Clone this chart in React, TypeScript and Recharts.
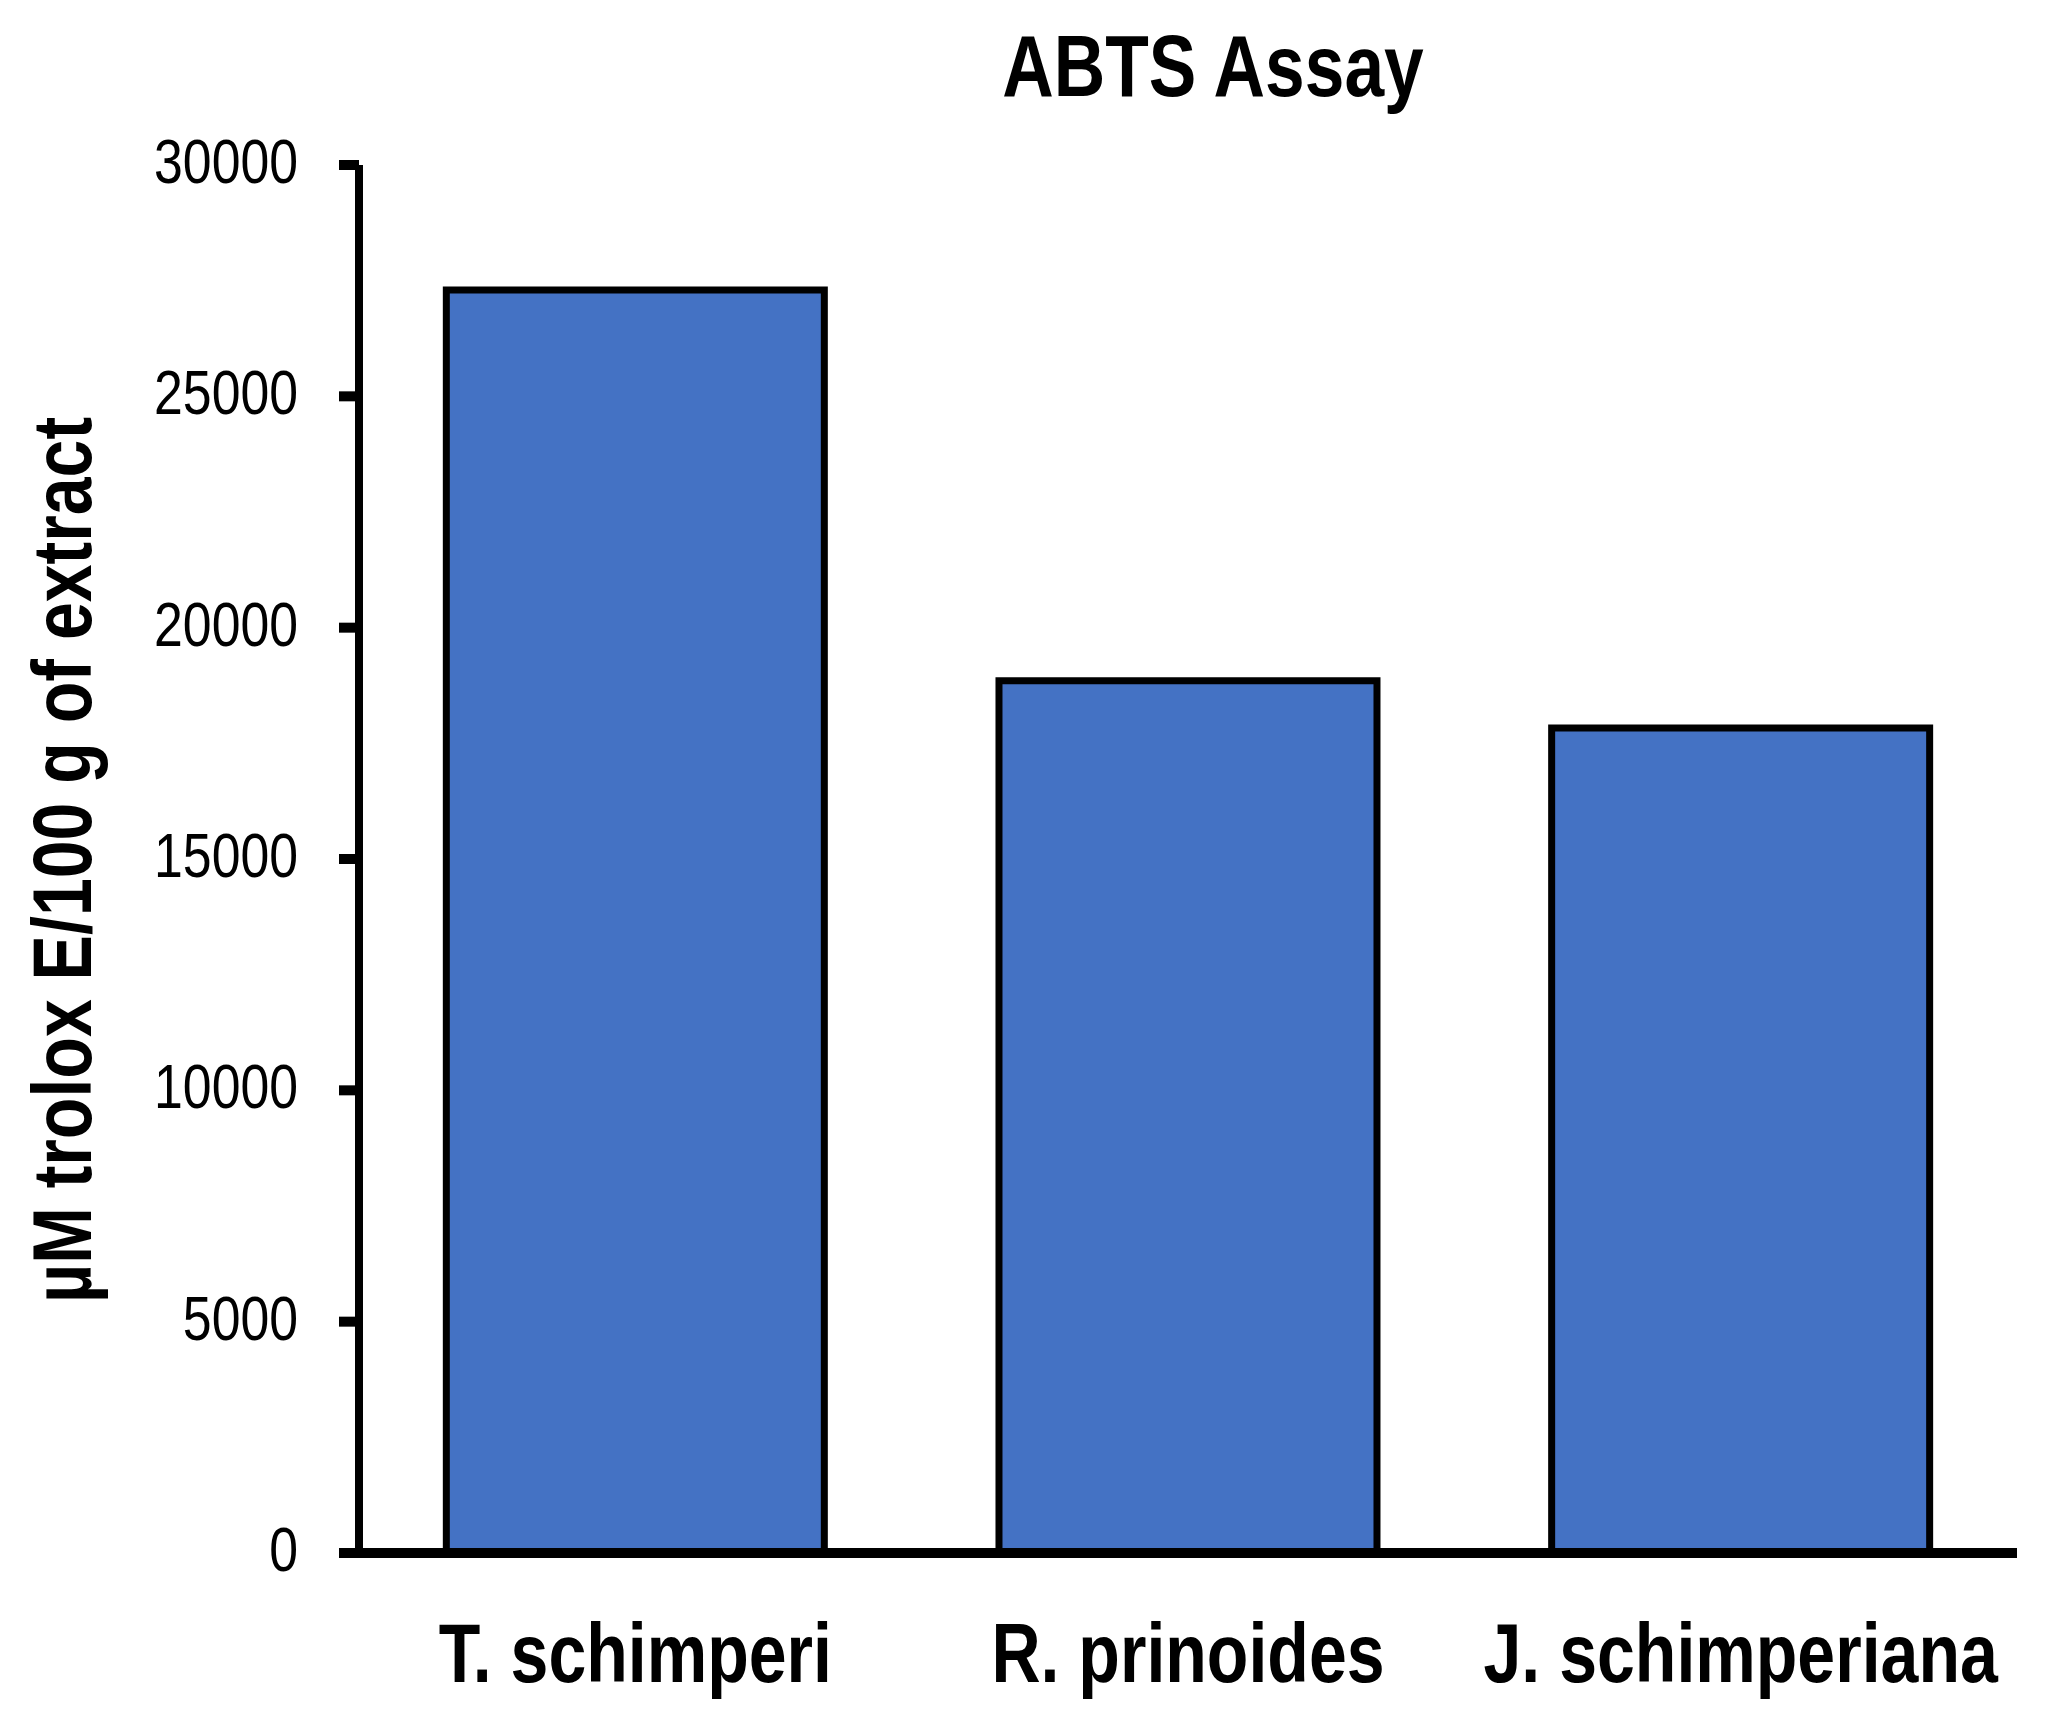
import { Bar, BarChart, XAxis, YAxis } from "recharts"

const species = ["T. schimperi", "R. prinoides", "J. schimperiana"]
const abtsValues = [27300, 18850, 17830]
const yTicks = [0, 5000, 10000, 15000, 20000, 25000, 30000]

const chartTitle = "ABTS Assay"
const yLabel = "µM trolox E/100 g of extract"

// no narrow font installed, so squeeze Liberation Sans to Arial Narrow proportions
const FONT = "'Liberation Sans', Arial, sans-serif"
const NARROW = 0.82

const data = species.map((name, i) => ({ name, value: abtsValues[i] }))

function YTick(props: any) {
  const { x, y, payload } = props
  return (
    <text
      transform={`translate(${x},${y}) scale(0.835,1)`}
      dy={18}
      textAnchor="end"
      fontFamily={FONT}
      fontSize={62}
      fill="#000"
    >
      {payload.value}
    </text>
  )
}

function XTick(props: any) {
  const { x, y, payload } = props
  return (
    <text
      transform={`translate(${x},${y}) scale(${NARROW},1)`}
      dy={129}
      textAnchor="middle"
      fontFamily={FONT}
      fontWeight="bold"
      fontSize={83}
      fill="#000"
    >
      {payload.value}
    </text>
  )
}

export default function App() {
  return (
    <div style={{ position: "absolute", left: 0, top: 0, width: 2048, height: 1721, background: "#fff" }}>
      <BarChart
        width={2048}
        height={1721}
        data={data}
        margin={{ top: 165, right: 31, bottom: 0, left: 0 }}
        barCategoryGap="15.8%"
      >
        <XAxis
          dataKey="name"
          height={168}
          tickLine={false}
          tickSize={0}
          tickMargin={0}
          axisLine={{ stroke: "#000", strokeWidth: 10 }}
          tick={<XTick />}
          interval={0}
        />
        <YAxis
          width={359}
          domain={[0, 30000]}
          ticks={yTicks}
          interval={0}
          tickSize={20}
          tickMargin={41}
          axisLine={{ stroke: "#000", strokeWidth: 8 }}
          tickLine={{ stroke: "#000", strokeWidth: 10 }}
          tick={<YTick />}
        />
        <Bar dataKey="value" fill="#4472C4" stroke="#000" strokeWidth={7} isAnimationActive={false} />
      </BarChart>
      <svg width={2048} height={1721} style={{ position: "absolute", left: 0, top: 0, pointerEvents: "none" }}>
        <text
          transform={`translate(1213,96) scale(${NARROW},1)`}
          textAnchor="middle"
          fontFamily={FONT}
          fontWeight="bold"
          fontSize={87}
          fill="#000"
        >
          {chartTitle}
        </text>
        <text
          transform={`translate(91,860) rotate(-90) scale(${NARROW},1)`}
          textAnchor="middle"
          fontFamily={FONT}
          fontWeight="bold"
          fontSize={83}
          fill="#000"
        >
          {yLabel}
        </text>
      </svg>
    </div>
  )
}
